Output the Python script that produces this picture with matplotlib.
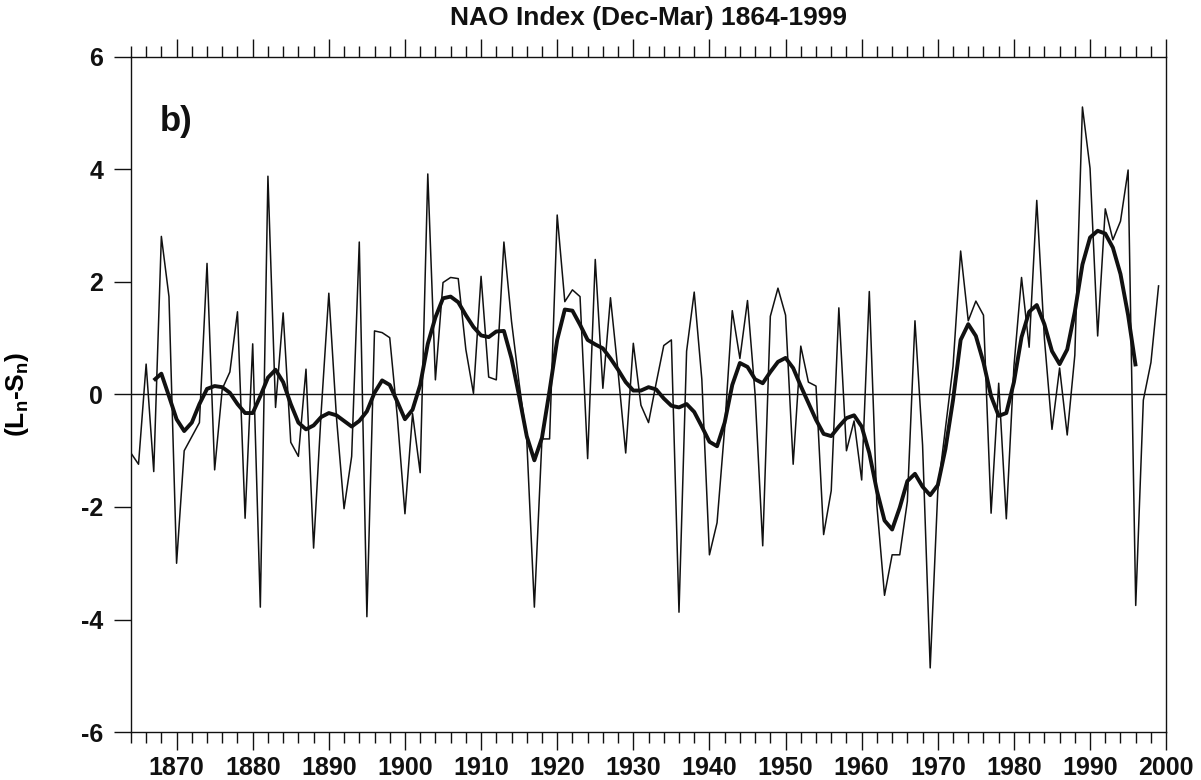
import numpy as np
import matplotlib.pyplot as plt
from matplotlib.ticker import MultipleLocator

plt.rcParams['font.family'] = ['Liberation Sans', 'DejaVu Sans']
plt.rcParams['mathtext.fontset'] = 'custom'
plt.rcParams['mathtext.rm'] = 'Liberation Sans:bold'
plt.rcParams['mathtext.default'] = 'rm'
plt.rcParams['axes.unicode_minus'] = False

# winter (Dec-Mar) NAO index, one value per year 1864-1999
years = np.arange(1864, 2000)
nao = [
    -1.04, -1.24, 0.54, -1.37, 2.81, 1.74, -3.00, -1.00, -0.75, -0.50,   # 1864-1873
    2.33, -1.34, 0.10, 0.40, 1.47, -2.20, 0.90, -3.78, 3.88, -0.23,      # 1874-1883
    1.45, -0.85, -1.10, 0.45, -2.73, -0.30, 1.80, -0.40, -2.03, -1.10,   # 1884-1893
    2.71, -3.95, 1.13, 1.10, 1.01, -0.40, -2.12, -0.34, -1.39, 3.92,     # 1894-1903
    0.26, 1.99, 2.08, 2.06, 0.80, 0.02, 2.10, 0.31, 0.26, 2.71,          # 1904-1913
    1.30, 0.20, -0.80, -3.78, -0.79, -0.79, 3.19, 1.65, 1.86, 1.74,      # 1914-1923
    -1.14, 2.40, 0.11, 1.72, 0.40, -1.04, 0.91, -0.19, -0.50, 0.20,      # 1924-1933
    0.87, 0.97, -3.87, 0.77, 1.82, 0.27, -2.85, -2.28, -0.60, 1.49,      # 1934-1943
    0.64, 1.67, 0.00, -2.69, 1.39, 1.89, 1.41, -1.24, 0.86, 0.22,        # 1944-1953
    0.15, -2.49, -1.71, 1.54, -1.00, -0.47, -1.52, 1.83, -1.98, -3.57,   # 1954-1963
    -2.85, -2.85, -1.90, 1.31, -0.90, -4.86, -1.71, -0.60, 0.50, 2.55,   # 1964-1973
    1.31, 1.66, 1.41, -2.11, 0.20, -2.21, 0.50, 2.08, 0.84, 3.45,        # 1974-1983
    1.00, -0.62, 0.47, -0.72, 0.70, 5.11, 4.02, 1.04, 3.30, 2.75,        # 1984-1993
    3.08, 3.99, -3.75, -0.10, 0.57, 1.93,                                # 1994-1999
]

# smoothed curve as drawn (1867-1996)
smooth_years = np.arange(1867, 1997)
smooth = [
    0.25, 0.37, -0.03, -0.44, -0.65, -0.50, -0.17, 0.10, 0.15, 0.13,     # 1867-1876
    0.03, -0.17, -0.33, -0.33, -0.03, 0.30, 0.44, 0.22, -0.17, -0.50,    # 1877-1886
    -0.62, -0.55, -0.40, -0.33, -0.37, -0.47, -0.57, -0.47, -0.30, 0.03, # 1887-1896
    0.25, 0.17, -0.13, -0.44, -0.27, 0.17, 0.90, 1.37, 1.71, 1.74,       # 1897-1906
    1.64, 1.41, 1.20, 1.05, 1.02, 1.12, 1.13, 0.64, -0.03, -0.74,        # 1907-1916
    -1.17, -0.77, 0.07, 0.97, 1.51, 1.49, 1.24, 0.97, 0.89, 0.82,        # 1917-1926
    0.64, 0.44, 0.22, 0.07, 0.07, 0.13, 0.09, -0.07, -0.20, -0.23,       # 1927-1936
    -0.17, -0.31, -0.57, -0.84, -0.92, -0.50, 0.17, 0.56, 0.49, 0.27,    # 1937-1946
    0.20, 0.40, 0.58, 0.65, 0.47, 0.15, -0.15, -0.45, -0.70, -0.74,      # 1947-1956
    -0.57, -0.42, -0.37, -0.57, -1.04, -1.71, -2.24, -2.40, -2.01, -1.54,# 1957-1966
    -1.41, -1.64, -1.79, -1.61, -0.97, -0.10, 0.97, 1.25, 1.04, 0.57,    # 1967-1976
    -0.03, -0.38, -0.33, 0.22, 1.02, 1.47, 1.59, 1.25, 0.77, 0.54,       # 1977-1986
    0.80, 1.47, 2.31, 2.79, 2.91, 2.86, 2.61, 2.14, 1.41, 0.50,          # 1987-1996
]

ink = '#111111'

fig = plt.figure(figsize=(12.01, 7.8), dpi=100)
ax = fig.add_axes([0.109, 0.0615, 0.862, 0.8655])

ax.axhline(0, color=ink, lw=1.0)
ax.plot(years, nao, color=ink, lw=1.1)
ax.plot(smooth_years, smooth, color=ink, lw=2.8, solid_capstyle='butt')

ax.set_xlim(1864, 2000)
ax.set_ylim(-6, 6)

ax.xaxis.set_major_locator(MultipleLocator(10))
ax.xaxis.set_minor_locator(MultipleLocator(2))
ax.yaxis.set_major_locator(MultipleLocator(2))

ax.tick_params(axis='x', which='major', direction='out', length=13, width=1.0,
               top=True, labeltop=False, colors=ink, labelsize=18, pad=4)
ax.tick_params(axis='x', which='minor', direction='out', length=8, width=1.0,
               top=True, colors=ink)
ax.tick_params(axis='y', which='major', direction='out', length=12, width=1.0,
               right=False, colors=ink, labelsize=18, pad=8)

ax.set_xticks(np.arange(1870, 2001, 10))
for lab in ax.get_xticklabels() + ax.get_yticklabels():
    lab.set_fontweight('bold')

for s in ax.spines.values():
    s.set_color(ink)
    s.set_linewidth(1.0)

ax.set_ylabel('(L$_n$-S$_n$)', fontsize=19, fontweight='bold', labelpad=36)
fig.text(0.54, 0.977, 'NAO Index (Dec-Mar) 1864-1999', fontsize=19,
         fontweight='bold', ha='center', va='center', color=ink)
ax.text(0.028, 0.905, 'b)', transform=ax.transAxes, fontsize=25, fontweight='bold',
        color=ink, va='center', ha='left')

fig.savefig('out.png', dpi=100, facecolor='white')
